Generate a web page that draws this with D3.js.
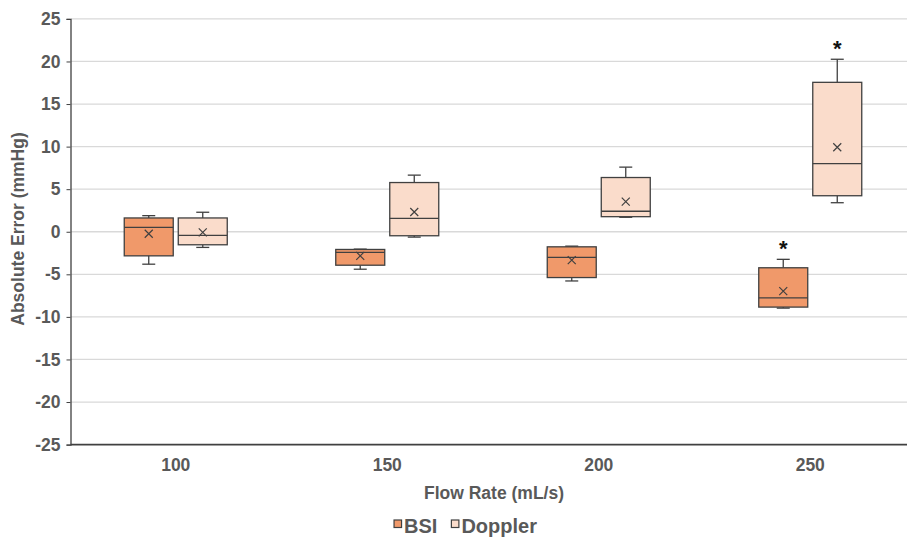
<!DOCTYPE html>
<html>
	<head>
		<meta charset="utf-8">
		<style type="text/css">
			body { margin: 0; background: white; font-family: "Liberation Sans", Arial, sans-serif; }
			svg text { font-weight: bold; fill: #595959; }
			.grid line { stroke: #d9d9d9; stroke-width: 1.3; }
			.box rect, .box line { stroke: #404040; stroke-width: 1.3; }
		</style>
		<title>Absolute Error by Flow Rate</title>
	</head>
	<body>
		<script src="https://cdn.jsdelivr.net/npm/d3@7"></script>
		<script>

var flowRates = ["100", "150", "200", "250"];
var seriesNames = ["BSI", "Doppler"];
var yTicks = [-25, -20, -15, -10, -5, 0, 5, 10, 15, 20, 25];

// box statistics per flow rate
var bsiMin    = [-3.81, -4.40, -5.78, -8.97];
var bsiQ1     = [-2.83, -3.93, -5.38, -8.85];
var bsiMedian = [ 0.52, -2.43, -3.02, -7.76];
var bsiQ3     = [ 1.62, -2.08, -1.77, -4.23];
var bsiMax    = [ 1.89, -2.04, -1.69, -3.24];
var bsiMean   = [-0.24, -2.83, -3.34, -6.97];
var bsiSig    = [false, false, false, true];

var dopplerMin    = [-1.84, -0.63, 1.70,  3.41];
var dopplerQ1     = [-1.53, -0.47, 1.77,  4.23];
var dopplerMedian = [-0.43,  1.58, 2.41,  7.99];
var dopplerQ3     = [ 1.62,  5.78, 6.37, 17.55];
var dopplerMax    = [ 2.29,  6.65, 7.59, 20.26];
var dopplerMean   = [-0.08,  2.32, 3.54,  9.92];
var dopplerSig    = [false, false, false, true];

var colors = {BSI: "#f0996a", Doppler: "#fadccb"};

function build(name, mn, q1, med, q3, mx, mean, sig) {
	return flowRates.map((f, i) => ({
		series: name, flow: f,
		min: mn[i], q1: q1[i], median: med[i], q3: q3[i], max: mx[i], mean: mean[i], sig: sig[i]
	}));
}

var data = build("BSI", bsiMin, bsiQ1, bsiMedian, bsiQ3, bsiMax, bsiMean, bsiSig)
	.concat(build("Doppler", dopplerMin, dopplerQ1, dopplerMedian, dopplerQ3, dopplerMax, dopplerMean, dopplerSig));

var width = 907, height = 538;

var svg = d3.select("body").append("svg")
	.attr("width", width)
	.attr("height", height);

var x0 = d3.scaleBand()
	.domain(flowRates)
	.range([70, 916]);

var x1 = d3.scaleBand()
	.domain(seriesNames)
	.range([x0.bandwidth() / 2 - 51.5, x0.bandwidth() / 2 + 51.5])
	.paddingInner(0.093);

var y = d3.scaleLinear()
	.domain([-25, 25])
	.range([444.6, 18.9]);

// gridlines
svg.append("g")
	.attr("class", "grid")
	.selectAll("line")
	.data(yTicks.filter(d => d > -25))
	.enter().append("line")
		.attr("x1", 71)
		.attr("x2", width)
		.attr("y1", d => y(d))
		.attr("y2", d => y(d));

// axes
var yAxis = svg.append("g")
	.attr("transform", "translate(70.5,0)")
	.call(d3.axisLeft(y).tickValues(yTicks).tickFormat(d => String(d)).tickSize(4).tickPadding(6));
yAxis.select(".domain").attr("stroke", "#404040").attr("stroke-width", 1.3);
yAxis.selectAll(".tick line").attr("stroke", "#404040");
yAxis.selectAll(".tick text").attr("font-size", 17.5).attr("font-family", "Liberation Sans, Arial, sans-serif");

var xAxis = svg.append("g")
	.attr("transform", `translate(0,${y(-25)})`)
	.call(d3.axisBottom(x0).tickSize(0).tickPadding(14));
xAxis.select(".domain").attr("d", `M70.5,0H${width}`).attr("stroke", "#404040").attr("stroke-width", 1.6);
xAxis.selectAll(".tick text").attr("font-size", 17.5).attr("font-family", "Liberation Sans, Arial, sans-serif");

// axis titles
svg.append("text")
	.attr("transform", "translate(24,229) rotate(-90)")
	.attr("text-anchor", "middle")
	.attr("font-size", 17.5)
	.text("Absolute Error (mmHg)");

svg.append("text")
	.attr("x", 494)
	.attr("y", 499)
	.attr("text-anchor", "middle")
	.attr("font-size", 17.5)
	.text("Flow Rate (mL/s)");

// boxes
var box = svg.selectAll(".box")
	.data(data)
	.enter().append("g")
		.attr("class", "box")
		.attr("transform", d => `translate(${x0(d.flow) + x1(d.series)},0)`);

var bw = x1.bandwidth(), cx = bw / 2, cap = 6.5;

box.append("line")
	.attr("x1", cx).attr("x2", cx)
	.attr("y1", d => y(d.max)).attr("y2", d => y(d.q3));
box.append("line")
	.attr("x1", cx).attr("x2", cx)
	.attr("y1", d => y(d.min)).attr("y2", d => y(d.q1));
box.append("line")
	.attr("x1", cx - cap).attr("x2", cx + cap)
	.attr("y1", d => y(d.max)).attr("y2", d => y(d.max));
box.append("line")
	.attr("x1", cx - cap).attr("x2", cx + cap)
	.attr("y1", d => y(d.min)).attr("y2", d => y(d.min));

box.append("rect")
	.attr("x", 0)
	.attr("width", bw)
	.attr("y", d => y(d.q3))
	.attr("height", d => y(d.q1) - y(d.q3))
	.attr("fill", d => colors[d.series]);

box.append("line")
	.attr("x1", 0).attr("x2", bw)
	.attr("y1", d => y(d.median)).attr("y2", d => y(d.median));

// mean marker
box.append("path")
	.attr("d", d => {
		var m = y(d.mean), s = 4;
		return `M${cx - s},${m - s}L${cx + s},${m + s}M${cx - s},${m + s}L${cx + s},${m - s}`;
	})
	.attr("stroke", "#404040")
	.attr("stroke-width", 1.2)
	.attr("fill", "none");

// significance asterisks
box.filter(d => d.sig).append("text")
	.attr("x", cx)
	.attr("y", d => y(d.max) - 3)
	.attr("text-anchor", "middle")
	.attr("font-size", 22)
	.style("fill", "#111")
	.text("*");

// legend
var legend = svg.append("g");
var lx = 0;
seriesNames.forEach(function(name) {
	legend.append("rect")
		.attr("x", lx)
		.attr("y", -12.5)
		.attr("width", 7.5)
		.attr("height", 7.5)
		.attr("fill", colors[name])
		.attr("stroke", "#404040")
		.attr("stroke-width", 1.2);
	var t = legend.append("text")
		.attr("x", lx + 10)
		.attr("y", 0)
		.attr("font-size", 20)
		.text(name);
	lx += 10 + t.node().getComputedTextLength() + 14;
});
lx -= 14;
legend.attr("transform", `translate(${465.5 - lx / 2},532.5)`);

		</script>
	</body>
</html>
